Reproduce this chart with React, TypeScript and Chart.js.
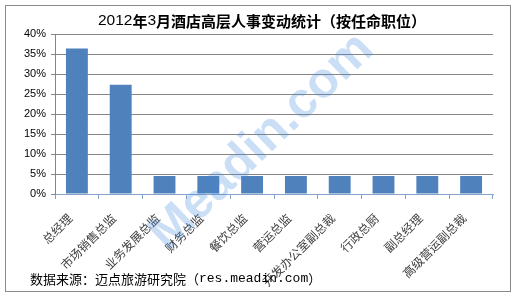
import React, { useEffect, useRef } from "react";
import { Chart, registerables } from "chart.js";

Chart.register(...registerables);

const categories = [
  "总经理",
  "市场销售总监",
  "业务发展总监",
  "财务总监",
  "餐饮总监",
  "营运总监",
  "开发办公室副总裁",
  "行政总厨",
  "副总经理",
  "高级营运副总裁",
];
const values = [36.4, 27.3, 4.5, 4.5, 4.5, 4.5, 4.5, 4.5, 4.5, 4.5];
const yMax = 40;
const yStep = 5;
const titleRuns: [string, boolean][] = [
  ["2012", false],
  ["年", true],
  ["3", false],
  ["月酒店高层人事变动统计（按任命职位）", true],
];
const captionRuns: [string, boolean][] = [
  ["数据来源：迈点旅游研究院（", false],
  ["res.meadin.com", true],
  ["）", false],
];
const watermark = "Meadin.com";

const W = 517;
const H = 297;

const decor = {
  id: "decor",
  afterDraw(chart: any) {
    const ctx = chart.ctx as CanvasRenderingContext2D;
    ctx.save();
    // border
    ctx.strokeStyle = "#8a8a8a";
    ctx.lineWidth = 1;
    ctx.strokeRect(5.5, 5.5, 505, 286);

    // title
    const fontOf = (bold: boolean) =>
      bold ? "bold 15px 'Noto Sans CJK SC'" : "15.5px 'Liberation Sans'";
    let total = 0;
    for (const [t, b] of titleRuns) {
      ctx.font = fontOf(b);
      total += ctx.measureText(t).width;
    }
    let x = 262 - total / 2;
    ctx.fillStyle = "#000";
    ctx.textBaseline = "middle";
    ctx.textAlign = "left";
    for (const [t, b] of titleRuns) {
      ctx.font = fontOf(b);
      ctx.fillText(t, x, 21);
      x += ctx.measureText(t).width;
    }

    // caption
    x = 30;
    for (const [t, mono] of captionRuns) {
      ctx.font = mono ? "13px 'Liberation Mono'" : "13px 'Noto Sans CJK SC'";
      ctx.fillText(t, x, 279);
      x += ctx.measureText(t).width;
    }

    // watermark
    ctx.translate(262, 142);
    ctx.rotate(-Math.PI / 4.1);
    ctx.font = "bold 50px 'Liberation Sans'";
    ctx.textAlign = "center";
    ctx.fillStyle = "rgba(65,135,221,0.28)";
    ctx.fillText(watermark, 0, 0);
    ctx.restore();
  },
};

export default function App() {
  const ref = useRef<HTMLCanvasElement | null>(null);
  useEffect(() => {
    const canvas = ref.current!;
    const chart = new Chart(canvas, {
      type: "bar",
      data: {
        labels: categories,
        datasets: [
          {
            data: values,
            backgroundColor: "#4F81BD",
            borderWidth: 0,
            categoryPercentage: 1,
            barPercentage: 0.5,
          },
        ],
      },
      options: {
        responsive: false,
        animation: false,
        layout: { padding: { left: 0, top: 34, right: 24, bottom: 0 } },
        plugins: {
          legend: { display: false },
          title: { display: false },
          tooltip: { enabled: false },
        },
        scales: {
          x: {
            grid: {
              offset: true,
              drawOnChartArea: false,
              drawTicks: true,
              tickLength: 5,
              color: "#86A3CC",
            },
            border: { color: "#86A3CC" },
            ticks: {
              minRotation: 45,
              maxRotation: 45,
              autoSkip: false,
              padding: 12,
              labelOffset: -7,
              color: "#404040",
              font: { family: "'Noto Sans CJK SC'", size: 12 },
            },
            afterFit: (s: any) => {
              s.height = 103;
            },
          },
          y: {
            min: 0,
            max: yMax,
            ticks: {
              stepSize: yStep,
              padding: 5,
              color: "#000",
              font: { family: "'Liberation Sans'", size: 11 },
              callback: (v: any) => `${v}%`,
            },
            grid: { color: "#868686", tickLength: 4 },
            border: { color: "#868686" },
            afterFit: (s: any) => {
              s.width = 55;
            },
          },
        },
      },
      plugins: [decor],
    });
    return () => chart.destroy();
  }, []);
  return (
    <div style={{ position: "absolute", left: 0, top: 0, width: W, height: H, background: "#fff" }}>
      <canvas ref={ref} width={W} height={H} />
    </div>
  );
}
